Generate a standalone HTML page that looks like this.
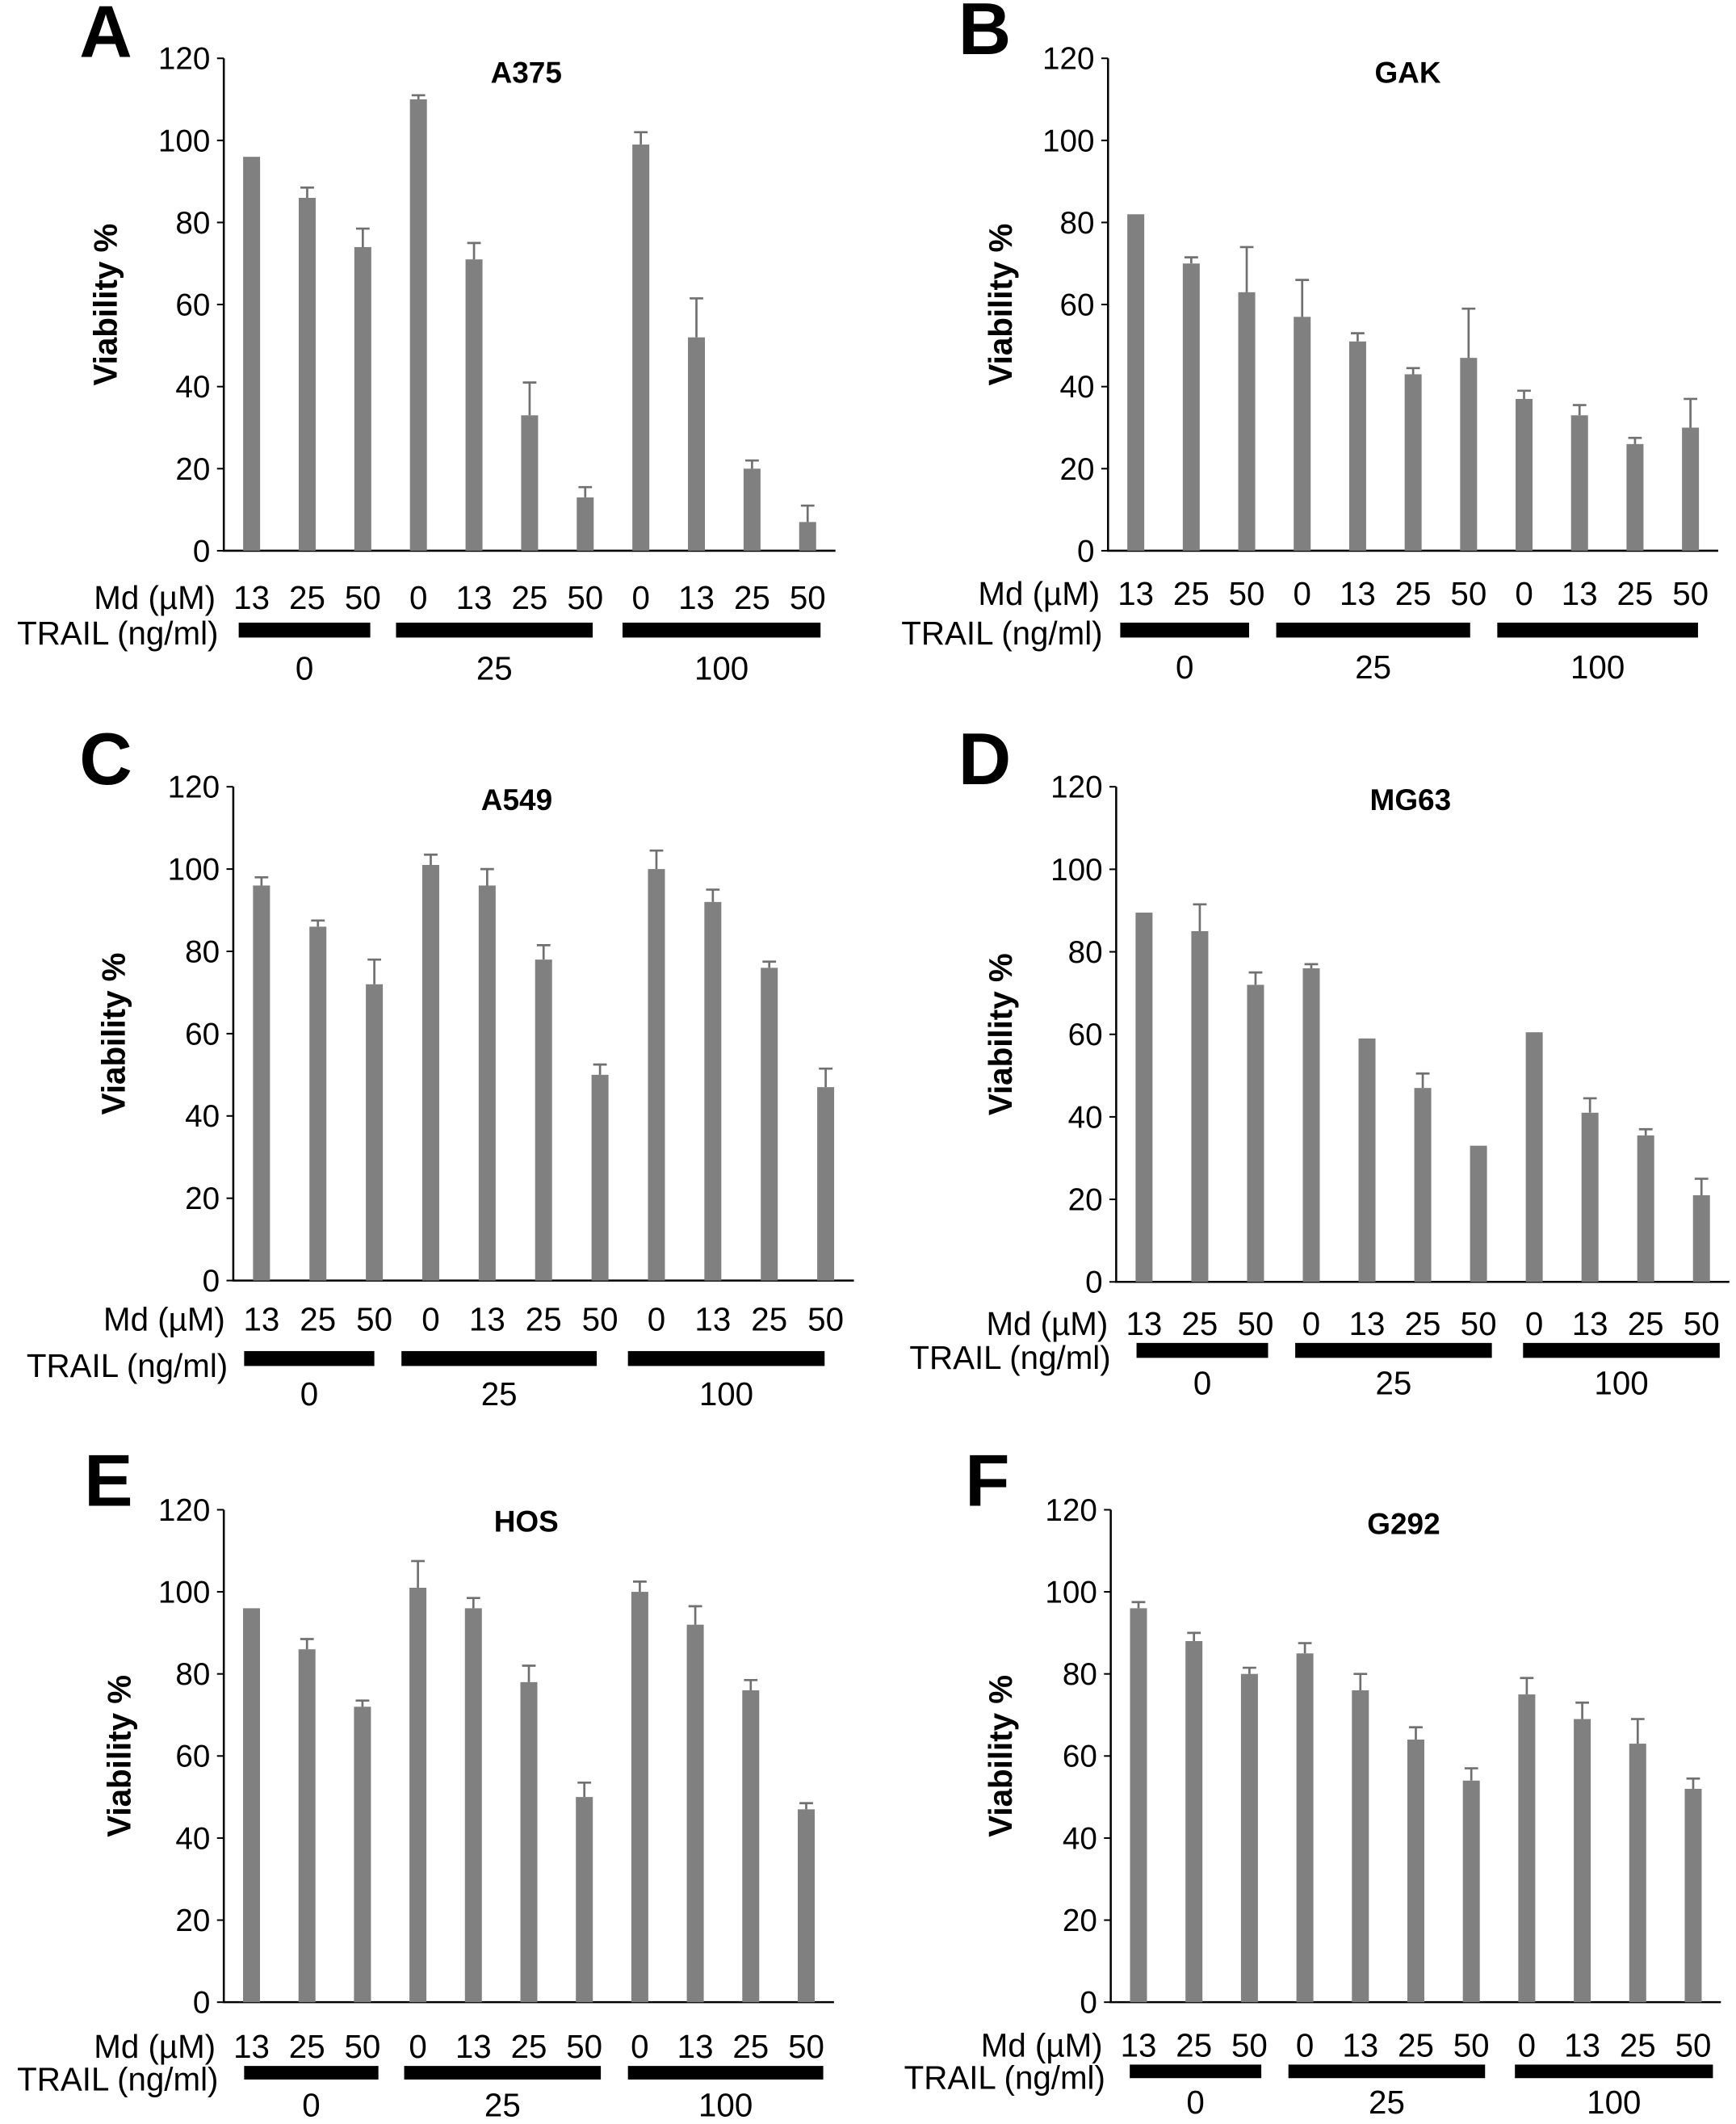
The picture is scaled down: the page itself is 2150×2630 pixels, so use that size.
<!DOCTYPE html>
<html><head><meta charset="utf-8"><style>
html,body{margin:0;padding:0;background:#fff;}
svg{display:block;}
text{font-family:"Liberation Sans",Arial,sans-serif;fill:#000;}
</style></head><body>
<svg id="fig" width="2150" height="2630" viewBox="0 0 1280 1565.8" xmlns="http://www.w3.org/2000/svg"></svg>
<script>
const mdLabels = ["13","25","50","0","13","25","50","0","13","25","50"];
const yTicks = [0,20,40,60,80,100,120];
const groupLabels = ["0","25","100"];
const titles = ["A375","GAK","A549","MG63","HOS","G292"];
const letters = ["A","B","C","D","E","F"];
const valsA = [96,86,74,110,71,33,13,99,52,20,7];
const errA  = [0,2.5,4.5,1,4,8,2.5,3,9.5,2,4];
const valsB = [82,70,63,57,51,43,47,37,33,26,30];
const errB  = [0,1.5,11,9,2,1.5,12,2,2.5,1.5,7];
const valsC = [96,86,72,101,96,78,50,100,92,76,47];
const errC  = [2,1.5,6,2.5,4,3.5,2.5,4.5,3,1.5,4.5];
const valsD = [89.5,85,72,76,59,47,33,60.5,41,35.5,21];
const errD  = [0,6.5,3,1,0,3.5,0,0,3.5,1.5,4];
const valsE = [96,86,72,101,96,78,50,100,92,76,47];
const errE  = [0,2.5,1.5,6.5,2.5,4,3.5,2.5,4.5,2.5,1.5];
const valsF = [96,88,80,85,76,64,54,75,69,63,52];
const errF  = [1.5,2,1.5,2.5,4,3,3,4,4,6,2.5];
const allVals=[valsA,valsB,valsC,valsD,valsE,valsF];
const allErr=[errA,errB,errC,errD,errE,errF];

const L=[
 {ax:165,y0:406,y1:43,step:41.0,let:[78,42],tt:[388,61],yt:78,md:440,tr:466,bar:[459,470],gb:[[176,273],[292,437],[459,605]],gl:492},
 {ax:817,y0:406,y1:43,step:40.9,let:[726,40],tt:[1038,61],yt:738,md:437,tr:466,bar:[459,470],gb:[[826,921],[941,1084],[1104,1252]],gl:491},
 {ax:172,y0:944,y1:580,step:41.6,let:[78,578],tt:[381,597],yt:84,md:972,tr:1006,bar:[996,1007],gb:[[180,276],[296,440],[463,608]],gl:1027},
 {ax:823,y0:945,y1:580,step:41.1,let:[726,578],tt:[1040,597],yt:738,md:975,tr:1000,bar:[990,1001],gb:[[838,935],[955,1100],[1123,1268]],gl:1019},
 {ax:165,y0:1476,y1:1113,step:40.9,let:[80,1110],tt:[388,1129],yt:88,md:1508,tr:1532,bar:[1523,1533],gb:[[180,279],[298,443],[463,607]],gl:1551},
 {ax:819,y0:1476,y1:1113,step:40.9,let:[728,1110],tt:[1035,1131],yt:738,md:1507,tr:1531,bar:[1522,1532],gb:[[833,930],[950,1095],[1117,1263]],gl:1549}
];
const NS="http://www.w3.org/2000/svg";
const svg=document.getElementById('fig');
function mk(tag,attrs,parent,txt){const e=document.createElementNS(NS,tag);for(const k in attrs)e.setAttribute(k,attrs[k]);if(txt!==undefined)e.textContent=txt;parent.appendChild(e);return e;}
L.forEach((p,i)=>{
  const g=mk('g',{},svg);
  
  
  const yS=v=>p.y0-(v/120)*(p.y0-p.y1);
  const xS=j=>p.ax+p.step*(j+0.5);
  const xEnd=p.ax+p.step*mdLabels.length;
  const lt=mk('text',{x:p.let[0],y:p.let[1],'font-size':54,'font-weight':'bold','text-anchor':'middle'},g,letters[i]);
  
  
  const tt=mk('text',{x:p.tt[0],y:p.tt[1],'font-size':22,'font-weight':'bold','text-anchor':'middle'},g,titles[i]);
  
  
  const ym=(p.y0+p.y1)/2;
  const yt=mk('text',{x:p.yt,y:ym,'font-size':24,'font-weight':'bold','text-anchor':'middle',transform:`rotate(-90 ${p.yt} ${ym})`,dy:8},g,'Viability %');
  
  
  const axis=mk('path',{d:`M${p.ax},${p.y1}V${p.y0}H${xEnd}`,stroke:'#000','stroke-width':1.5,fill:'none'},g);
  
  
  yTicks.forEach(t=>{
    mk('line',{x1:p.ax-5,x2:p.ax,y1:yS(t),y2:yS(t),stroke:'#000','stroke-width':1.2},g);
    const tl=mk('text',{x:p.ax-10,y:yS(t)+8,'font-size':23,'text-anchor':'end'},g,String(t));
    
    
  });
  const vals=allVals[i],errs=allErr[i];
  vals.forEach((v,j)=>{
    const cx=xS(j),bw=12.5;
    const r=mk('rect',{x:cx-bw/2,y:yS(v),width:bw,height:p.y0-yS(v),fill:'#808080'},g);
    
    
    if(errs[j]>0){
      const e=mk('path',{d:`M${cx},${yS(v)}V${yS(v+errs[j])}M${cx-5},${yS(v+errs[j])}H${cx+5}`,stroke:'#707070','stroke-width':1.6,fill:'none'},g);
      
      
    }
    const ml=mk('text',{x:cx,y:p.md+9,'font-size':24,'text-anchor':'middle'},g,mdLabels[j]);
    
    
  });
  const mdt=mk('text',{x:p.ax-6,y:p.md+9,'font-size':24,'text-anchor':'end'},g,'Md (µM)');
  
  
  const trt=mk('text',{x:p.ax-4,y:p.tr+9,'font-size':24,'text-anchor':'end'},g,'TRAIL (ng/ml)');
  
  
  p.gb.forEach((b,k)=>{
    const gr=mk('rect',{x:b[0],y:p.bar[0],width:b[1]-b[0],height:p.bar[1]-p.bar[0],fill:'#000'},g);
    
    
    const gl=mk('text',{x:(b[0]+b[1])/2,y:p.gl+9,'font-size':24,'text-anchor':'middle'},g,groupLabels[k]);
    
    
  });
});
</script>
</body></html>
